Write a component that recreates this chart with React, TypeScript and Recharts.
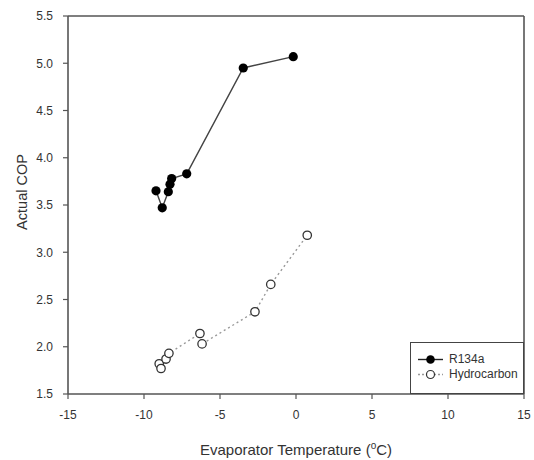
import { ScatterChart, Scatter, XAxis, YAxis, ReferenceLine, Legend } from 'recharts'

const r134aTemp = [-9.21, -8.8, -8.4, -8.29, -8.18, -7.19, -3.47, -0.18]
const r134aCop = [3.65, 3.47, 3.64, 3.72, 3.78, 3.83, 4.95, 5.07]

const hcTemp = [-9.0, -8.88, -8.55, -8.36, -6.32, -6.18, -2.7, -1.66, 0.74]
const hcCop = [1.82, 1.77, 1.87, 1.93, 2.14, 2.03, 2.37, 2.66, 3.18]

const xTicks = [-15, -10, -5, 0, 5, 10, 15]
const yTicks = [1.5, 2.0, 2.5, 3.0, 3.5, 4.0, 4.5, 5.0, 5.5]
const seriesNames = ['R134a', 'Hydrocarbon']

const FONT = '"Liberation Sans", Arial, sans-serif'
const AXIS = '#555'
const TEXT = '#333'

const r134aData = r134aTemp.map((x, i) => ({ x, y: r134aCop[i] }))
const hcData = hcTemp.map((x, i) => ({ x, y: hcCop[i] }))

const FilledDot = (p: any) => <circle cx={p.cx} cy={p.cy} r={4.6} fill="#000" />
const OpenDot = (p: any) => (
  <circle cx={p.cx} cy={p.cy} r={4.2} fill="#fff" stroke="#333" strokeWidth={1.3} />
)

function XTitle({ viewBox }: any) {
  const cx = viewBox.x + viewBox.width / 2
  return (
    <text x={cx} y={viewBox.y + 61} textAnchor="middle" fill={TEXT} fontSize={15} fontFamily={FONT}>
      <tspan>Evaporator Temperature (</tspan>
      <tspan fontSize={10} dy={-6}>o</tspan>
      <tspan dy={6}>C)</tspan>
    </text>
  )
}

function YTitle() {
  return (
    <text
      x={22}
      y={192}
      transform="rotate(-90 22 192)"
      textAnchor="middle"
      dominantBaseline="central"
      fill={TEXT}
      fontSize={14.5}
      fontFamily={FONT}
    >
      Actual COP
    </text>
  )
}

function LegendBox() {
  return (
    <div
      style={{
        boxSizing: 'border-box',
        width: 114,
        height: 52,
        border: '1.5px solid #444',
        background: '#fff',
        padding: '9px 0 0 6px',
        fontFamily: FONT,
        fontSize: 12,
        color: TEXT,
        lineHeight: '15px',
      }}
    >
      {seriesNames.map((name, i) => (
        <div key={name} style={{ display: 'flex', alignItems: 'center', height: 15 }}>
          <svg width={28} height={15} style={{ marginRight: 4 }}>
            <line
              x1={1}
              x2={26}
              y1={7.5}
              y2={7.5}
              stroke={i === 0 ? '#222' : '#999'}
              strokeWidth={1.4}
              strokeDasharray={i === 0 ? undefined : '2 2'}
            />
            {i === 0 ? (
              <circle cx={13.5} cy={7.5} r={4.3} fill="#000" />
            ) : (
              <circle cx={13.5} cy={7.5} r={4} fill="#fff" stroke="#333" strokeWidth={1.2} />
            )}
          </svg>
          <span>{name}</span>
        </div>
      ))}
    </div>
  )
}

export default function App() {
  return (
    <div style={{ position: 'absolute', left: 0, top: 0, background: '#fff' }}>
      <ScatterChart width={534} height={460} margin={{ top: 16, right: 10, bottom: 0, left: 0 }}>
        <XAxis
          type="number"
          dataKey="x"
          domain={[-15, 15]}
          ticks={xTicks}
          interval={0}
          height={66}
          tickSize={5}
          tickMargin={11}
          axisLine={{ stroke: AXIS, strokeWidth: 1.6 }}
          tickLine={{ stroke: AXIS, strokeWidth: 1.2 }}
          tick={{ fill: TEXT, fontSize: 12, fontFamily: FONT }}
          label={<XTitle />}
        />
        <YAxis
          type="number"
          dataKey="y"
          domain={[1.5, 5.5]}
          ticks={yTicks}
          interval={0}
          width={68}
          tickSize={5}
          tickMargin={10}
          tickFormatter={(v: number) => v.toFixed(1)}
          axisLine={{ stroke: AXIS, strokeWidth: 1.6 }}
          tickLine={{ stroke: AXIS, strokeWidth: 1.2 }}
          tick={{ fill: TEXT, fontSize: 12, fontFamily: FONT }}
          label={<YTitle />}
        />
        <ReferenceLine y={5.5} stroke={AXIS} strokeWidth={1.6} />
        <ReferenceLine x={15} stroke={AXIS} strokeWidth={1.6} />
        <Scatter
          name="R134a"
          data={r134aData}
          line={{ stroke: '#444', strokeWidth: 1.4 }}
          lineType="joint"
          shape={FilledDot}
          isAnimationActive={false}
        />
        <Scatter
          name="Hydrocarbon"
          data={hcData}
          line={{ stroke: '#999', strokeWidth: 1.4, strokeDasharray: '2 3' }}
          lineType="joint"
          shape={OpenDot}
          isAnimationActive={false}
        />
        <Legend
          layout="vertical"
          align="center"
          verticalAlign="middle"
          content={() => <LegendBox />}
          wrapperStyle={{ left: 410, top: 342, width: 114, height: 52 }}
        />
      </ScatterChart>
    </div>
  )
}
